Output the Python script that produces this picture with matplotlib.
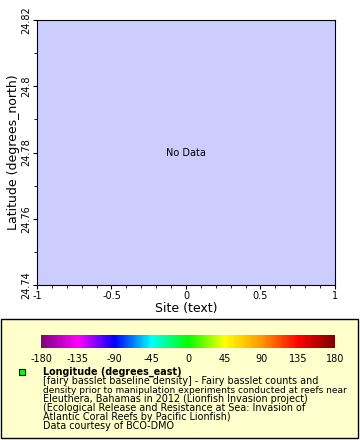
import matplotlib
matplotlib.use("Agg")
import matplotlib.pyplot as plt
from matplotlib.colors import LinearSegmentedColormap, Normalize
from matplotlib.colorbar import ColorbarBase
from matplotlib.patches import Rectangle
from matplotlib.ticker import MultipleLocator

plt.rcParams["axes.unicode_minus"] = False

# axis ranges and ticks
x_ticks = [-1, -0.5, 0, 0.5, 1]
x_tick_labels = ["-1", "-0.5", "0", "0.5", "1"]
y_ticks = [24.74, 24.76, 24.78, 24.8, 24.82]
y_tick_labels = ["24.74", "24.76", "24.78", "24.8", "24.82"]

# colour bar for longitude
cbar_ticks = [-180, -135, -90, -45, 0, 45, 90, 135, 180]
cbar_colors = ["#800080", "#ff00ff", "#0000ff", "#00ffff", "#00ff00",
               "#ffff00", "#ff9900", "#ff0000", "#800000"]

legend_title = "Longitude (degrees_east)"
legend_lines = [
    "[fairy basslet baseline density] - Fairy basslet counts and",
    "density prior to manipulation experiments conducted at reefs near",
    "Eleuthera, Bahamas in 2012 (Lionfish Invasion project)",
    "(Ecological Release and Resistance at Sea: Invasion of",
    "Atlantic Coral Reefs by Pacific Lionfish)",
    "Data courtesy of BCO-DMO",
]

W, H = 360, 440
fig = plt.figure(figsize=(W / 100, H / 100), dpi=100)
fig.patch.set_facecolor("white")

# main (empty) plot
ax = fig.add_axes([37 / W, 1 - 285 / H, 298 / W, 265 / H])
ax.set_facecolor("#ccccff")
ax.set_xlim(x_ticks[0], x_ticks[-1])
ax.set_ylim(y_ticks[0], y_ticks[-1])
ax.set_xticks(x_ticks)
ax.set_xticklabels(x_tick_labels, fontsize=7)
ax.set_yticks(y_ticks)
ax.set_yticklabels(y_tick_labels, fontsize=7, rotation=90, va="center")
ax.xaxis.set_minor_locator(MultipleLocator(0.1))
ax.yaxis.set_minor_locator(MultipleLocator(0.01))
ax.tick_params(which="major", length=3, width=0.8, pad=1)
ax.tick_params(which="minor", length=2, width=0.6)
for s in ax.spines.values():
    s.set_linewidth(0.8)
ax.set_xlabel("Site (text)", fontsize=9, labelpad=1)
ax.set_ylabel("Latitude (degrees_north)", fontsize=9, labelpad=1)
ax.text(0.5, 0.5, "No Data", transform=ax.transAxes, ha="center", va="center",
        fontsize=7)

# legend box
fig.add_artist(Rectangle((1 / W, 2 / H), 357 / W, 119 / H,
                         transform=fig.transFigure, facecolor="#ffffcc",
                         edgecolor="black", linewidth=1, zorder=-1))

cax = fig.add_axes([41 / W, 1 - 348 / H, 294 / W, 13 / H], zorder=2)
cmap = LinearSegmentedColormap.from_list("lon", cbar_colors)
cb = ColorbarBase(cax, cmap=cmap, norm=Normalize(cbar_ticks[0], cbar_ticks[-1]),
                  orientation="horizontal", ticks=cbar_ticks)
cb.outline.set_visible(False)
cax.tick_params(length=0, labelsize=7, pad=4)

fig.add_artist(Rectangle((19 / W, 1 - 375 / H), 6 / W, 6 / H,
                         transform=fig.transFigure, facecolor="#00ff00",
                         edgecolor="black", linewidth=0.8, zorder=3))
fig.text(43 / W, 1 - 372 / H, legend_title, fontsize=6.9, fontweight="bold",
         ha="left", va="center")
for i, line in enumerate(legend_lines):
    # the long second line is squeezed a little so it stays inside the box
    size = 6.5 if len(line) > 62 else 6.9
    fig.text(43 / W, 1 - (381 + 9 * i) / H, line, fontsize=size,
             ha="left", va="center")

fig.savefig("out.png", dpi=100)
